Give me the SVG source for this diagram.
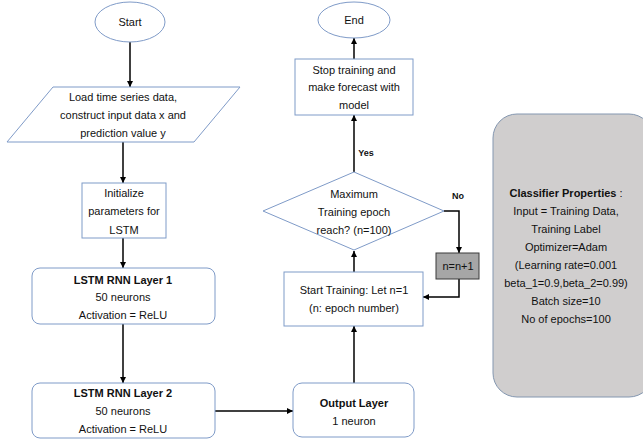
<svg xmlns="http://www.w3.org/2000/svg" width="643" height="439" viewBox="0 0 643 439">
<defs>
<marker id="arr" viewBox="0 0 10 10" refX="10" refY="5" markerWidth="6" markerHeight="6" markerUnits="userSpaceOnUse" orient="auto">
<path d="M0,0 L10,5 L0,10 z" fill="#000"/>
</marker>
<style>
.n{fill:#fff;stroke:#7f9bc8;stroke-width:1}
.g{fill:#a6a6a6;stroke:#3a3a3a;stroke-width:1}
.c{fill:#d0cece;stroke:#8497b0;stroke-width:1}
text{font-family:"Liberation Sans",Arial,sans-serif;font-size:11px;fill:#111;text-anchor:middle}
.b{font-weight:bold}
.s{font-size:9px;font-weight:bold}
.e{fill:none;stroke:#000;stroke-width:1.5;marker-end:url(#arr)}
.l{fill:none;stroke:#000;stroke-width:1.5}
</style>
</defs>
<rect width="643" height="439" fill="#fff"/>
<g id="connectors">
<path class="e" d="M130,42 V87"/>
<path class="e" d="M123,142 V183"/>
<path class="e" d="M123,238 V268"/>
<path class="e" d="M123,324 V383"/>
<path class="e" d="M215,411 H293"/>
<path class="e" d="M354,383 V326"/>
<path class="e" d="M354,272 V251"/>
<path class="e" d="M354,172 V115"/>
<path class="e" d="M354,59 V38"/>
<path class="e" d="M444,211 H459 V253"/>
<path class="e" d="M459,279 V297 H423"/>
<text class="s" x="366" y="156">Yes</text>
<text class="s" x="458" y="199">No</text>
</g>
<g id="start">
<ellipse class="n" cx="130" cy="22" rx="35" ry="20"/>
<text x="130" y="26">Start</text>
</g>
<g id="load">
<polygon class="n" points="53,87 240,87 194,142 7,142"/>
<text x="123" y="101">Load time series data,</text>
<text x="123" y="119">construct input data x and</text>
<text x="123" y="137">prediction value y</text>
</g>
<g id="init">
<rect class="n" x="82" y="183" width="84" height="55"/>
<text x="124" y="197">Initialize</text>
<text x="124" y="215">parameters for</text>
<text x="124" y="234">LSTM</text>
</g>
<g id="lstm1">
<rect class="n" x="32" y="268" width="183" height="56" rx="8"/>
<text class="b" x="123" y="284">LSTM RNN Layer 1</text>
<text x="123" y="301">50 neurons</text>
<text x="123" y="319">Activation = ReLU</text>
</g>
<g id="lstm2">
<rect class="n" x="32" y="383" width="183" height="55" rx="8"/>
<text class="b" x="123" y="397">LSTM RNN Layer 2</text>
<text x="123" y="415">50 neurons</text>
<text x="123" y="433">Activation = ReLU</text>
</g>
<g id="output">
<rect class="n" x="293" y="383" width="121" height="54" rx="9"/>
<text class="b" x="354" y="407">Output Layer</text>
<text x="354" y="425">1 neuron</text>
</g>
<g id="train">
<rect class="n" x="284" y="272" width="139" height="54"/>
<text x="354" y="294">Start Training: Let n=1</text>
<text x="354" y="312">(n: epoch number)</text>
</g>
<g id="decision">
<polygon class="n" points="354,172 444,211 354,250 263,211"/>
<text x="354" y="198">Maximum</text>
<text x="354" y="216">Training epoch</text>
<text x="354" y="234">reach? (n=100)</text>
</g>
<g id="stop">
<rect class="n" x="295" y="59" width="118" height="56"/>
<text x="354" y="74">Stop training and</text>
<text x="354" y="91">make forecast with</text>
<text x="354" y="109">model</text>
</g>
<g id="end">
<ellipse class="n" cx="354" cy="20" rx="36" ry="18"/>
<text x="354" y="24">End</text>
</g>
<g id="incr">
<rect class="g" x="436" y="253" width="43" height="26"/>
<text x="458" y="270">n=n+1</text>
</g>
<g id="classifier">
<rect class="c" x="493" y="114" width="160" height="283" rx="24"/>
<text x="566" y="197"><tspan class="b">Classifier Properties</tspan> :</text>
<text x="566" y="215">Input = Training Data,</text>
<text x="566" y="233">Training Label</text>
<text x="566" y="251">Optimizer=Adam</text>
<text x="566" y="269">(Learning rate=0.001</text>
<text x="566" y="287">beta_1=0.9,beta_2=0.99)</text>
<text x="566" y="305">Batch size=10</text>
<text x="566" y="323">No of epochs=100</text>
</g>
</svg>
